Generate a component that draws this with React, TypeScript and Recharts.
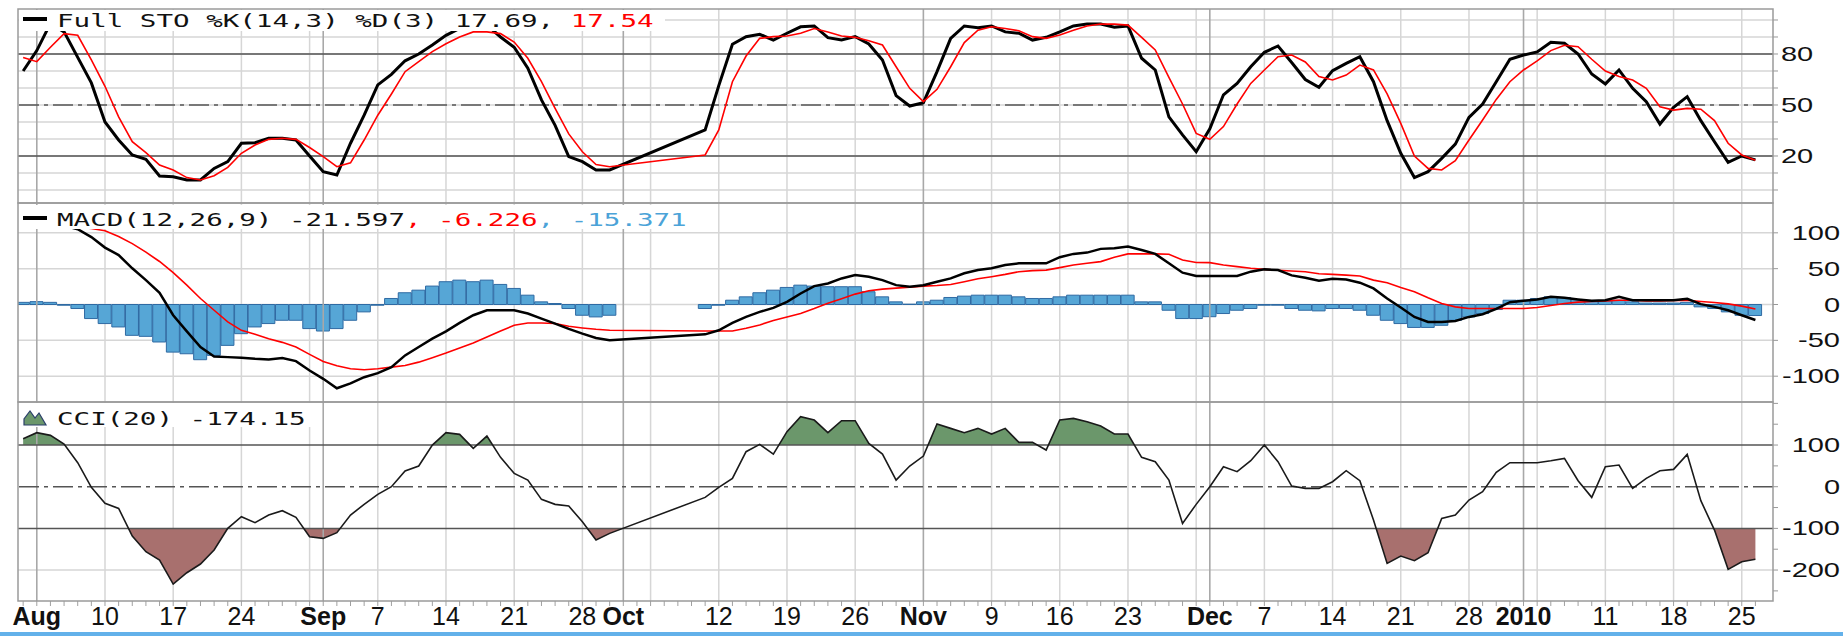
import React from 'react';
import { ComposedChart, Line, Bar, Area, XAxis, YAxis, CartesianGrid, ReferenceLine } from 'recharts';

// calendar: one slot per weekday, no quotes on Oct 1-8
const FIRST_DAY = '2009-07-31';
const LAST_DAY = '2010-01-26';
const MISSING_DAYS = ['2009-10-01', '2009-10-02', '2009-10-05', '2009-10-06', '2009-10-07', '2009-10-08'];

const AXIS_LABEL_DAYS = [
  '2009-08-03', '2009-08-10', '2009-08-17', '2009-08-24', '2009-09-01', '2009-09-07', '2009-09-14',
  '2009-09-21', '2009-09-28', '2009-10-01', '2009-10-12', '2009-10-19', '2009-10-26', '2009-11-02',
  '2009-11-09', '2009-11-16', '2009-11-23', '2009-12-01', '2009-12-07', '2009-12-14', '2009-12-21',
  '2009-12-28', '2010-01-01', '2010-01-11', '2010-01-18', '2010-01-25',
];
const AXIS_LABELS = [
  'Aug', '10', '17', '24', 'Sep', '7', '14', '21', '28', 'Oct', '12', '19', '26', 'Nov',
  '9', '16', '23', 'Dec', '7', '14', '21', '28', '2010', '11', '18', '25',
];
const MONTH_DAYS = ['2009-08-03', '2009-09-01', '2009-10-01', '2009-11-02', '2009-12-01', '2010-01-01'];

// values per trading day (Jul 31 .. Sep 30, then Oct 9 .. Jan 26)
const STO_K = [
  70, 82, 98, 93, 78, 63, 40, 29.4, 20.6, 18,
  8.2, 7.8, 5.9, 5.9, 12.7, 16.7, 27.5, 27.8, 30.4, 30.4,
  29.4, 20, 10.8, 8.8, 27.5, 44, 61.8, 68, 76, 80,
  85.3, 91, 95, 97, 97, 90, 84, 71.6, 53, 38,
  19.6, 16.7, 11.8, 11.8,
  35.3, 61.4, 85.7, 90.2, 91.6, 88.2, 92.2, 96, 96.5, 89.6,
  88.2, 90.2, 85.9, 76.5, 55.5, 49.4, 51.4, 69.6, 89.2, 96.5,
  95.5, 96.5, 93, 92.2, 88.2, 89.8, 93, 96.5, 97.6, 97.6,
  95.7, 96.5, 77.5, 70.6, 43, 32.4, 22.5, 36, 56, 62.7,
  72.5, 81, 84.7, 75, 65, 60.4, 70.2, 74.5, 78.4, 63.7,
  40.8, 21.6, 7.3, 10.8, 18.6, 27, 42.7, 50.6, 63.7, 76.9,
  79.4, 81.2, 86.9, 86.3, 80, 68.2, 62.4, 70.6, 59.8, 52,
  38.8, 48.6, 54.9, 40.8, 28.4, 16.3, 20, 17.69,
];
const STO_D = [
  78, 75.5, 84, 92, 91, 76.5, 61, 43, 28.4, 22,
  14.7, 11.8, 7.3, 5.9, 8.4, 13.3, 21.6, 26.5, 29.8, 30.4,
  29.8, 25, 19.6, 13.7, 16, 29.4, 44, 56.5, 69.6, 75.5,
  81.4, 86, 90, 93, 93, 92, 87, 77.5, 63.7, 48,
  33, 22.5, 15, 13.7,
  20.6, 35.3, 63.7, 78.8, 89.2, 90.2, 90.6, 92.2, 95, 93,
  90.6, 89.8, 87.8, 85.3, 72.5, 59.8, 52, 59.2, 72.5, 86.7,
  94, 96, 95, 93.7, 90.2, 89.2, 91.2, 94, 96.5, 97.6,
  97.6, 97, 89.8, 82.4, 66.3, 50.6, 33.3, 29.8, 37.3, 50.6,
  62.7, 70.6, 78.4, 79.4, 75.3, 66.7, 64.7, 67.6, 73.5, 70.6,
  56.5, 39.2, 20, 12.7, 11.8, 17.3, 29.4, 41.2, 53.3, 63.7,
  70.6, 76, 82, 85.1, 84.3, 76.9, 70, 66.7, 64.7, 59.8,
  49, 47, 48, 47.5, 40.8, 27.5, 20.6, 17.54,
];
const MACD_LINE = [
  128, 122, 116, 110, 105, 94, 79.4, 69, 50.5, 34,
  16.4, -15, -37.4, -59.3, -72.4, -73.4, -74.3, -75.7, -76.6, -74.8,
  -79, -92, -103.7, -116.8, -110, -101.4, -95.8, -87.4, -71, -59.3,
  -47.7, -37.4, -25.7, -15, -8, -8, -8, -12.6, -19.6, -26.6,
  -34, -40.7, -46.7, -50,
  -41.6, -36, -25.7, -17.3, -10.3, -4.7, 3.7, 15.4, 25.7, 29.4,
  36.4, 41, 38.8, 34, 27, 24.8, 27, 31.8, 36.4, 43.5,
  48, 50.5, 55, 57.5, 57.5, 57.5, 66, 70.6, 72.4, 77.6,
  78.5, 80.8, 76, 70.6, 57.5, 44.4, 39.7, 39.7, 39.7, 39.7,
  45.8, 49, 48, 40.6, 37.4, 33.2, 36, 35, 30.4, 22.4,
  8.4, -4.2, -17.3, -24.3, -24.3, -22.9, -17.3, -13.6, -6, 3.3,
  5.1, 7, 10.7, 9.3, 7, 5.1, 6, 10.7, 6, 6,
  6, 6, 8, 0.5, -3.3, -8, -15, -21.597,
];
const MACD_SIGNAL = [
  120, 117, 114, 111, 108, 106, 102.8, 94.9, 85, 73,
  60, 44.4, 27, 8.4, -8, -24.3, -36, -41.6, -47.7, -52.8,
  -59.3, -69.6, -79.4, -85.5, -89.7, -91, -89.7, -87.4, -85, -80.4,
  -74.3, -67.8, -60.7, -53.7, -45.3, -37, -29, -25.7, -25.7, -26.6,
  -30.4, -32.7, -34.6, -36,
  -37, -37, -37, -33, -28.5, -22.4, -17.3, -12.6, -5.6, 1.9,
  8, 14.5, 19.2, 21.5, 22.9, 24.3, 25.7, 26.6, 28, 31.8,
  36, 38.8, 42, 45.8, 47.2, 48, 51.4, 55, 57.5, 59.8,
  65.9, 70.6, 70.6, 70.6, 70, 62, 58.5, 58.4, 55, 52.8,
  50.5, 49, 47.7, 46.7, 45.8, 43, 42, 41, 39.7, 34,
  30.4, 23.8, 17.8, 9.3, 1.4, -3.3, -5.6, -5.6, -5.6, -5.6,
  -5.6, -4.2, -1.4, 1.4, 3.3, 4.2, 5.1, 6, 6, 5.1,
  5.1, 5.6, 6, 4.2, 2.8, 0.9, -2.3, -6.226,
];
const MACD_HIST = [
  3, 4, 3, -1, -5.6, -19.6, -26.6, -31.3, -43, -44.4,
  -52.3, -66.4, -68.7, -77, -71, -57, -40.7, -31.3, -26.6, -22,
  -22, -33.6, -37, -33.6, -22, -10.3, -1, 8.4, 16.4, 20,
  25.7, 31.8, 34, 31.8, 34, 28, 22.4, 13, 3.7, 1.4,
  -5.6, -15, -17.3, -15,
  -5.6, -1, 6, 10.7, 16.4, 20, 23.8, 27, 25.7, 24.8,
  24.8, 24.8, 17.8, 10.7, 3.7, 0.5, 3.7, 6, 9.8, 11.7,
  13, 13, 13, 10.7, 8.4, 8.4, 10.7, 13, 13, 13,
  13, 13, 3.7, 3.7, -8, -19.6, -19.6, -17, -12.6, -8,
  -5.6, -1, -1, -5.6, -8, -8.9, -5.6, -5.6, -8, -15,
  -22, -26.6, -32, -32, -29, -22, -17.3, -12.6, -7, 6,
  6, 8.4, 10.7, 9.8, 7, 4.7, 4.7, 6, 3.7, 2,
  2, 2, 3, -3.3, -5.6, -10.3, -15, -15.371,
];
const CCI_20 = [
  115.2, 129.6, 123.2, 102.4, 57.6, -1.6, -40, -52, -118.4, -156,
  -176, -233.6, -206.4, -185.6, -152, -100, -72, -86.4, -68, -57.6,
  -73.6, -120, -124, -110.4, -68, -42.4, -18.4, 0, 37.6, 49.6,
  100, 129.6, 125.6, 92, 121.6, 70.4, 32, 16, -30.4, -42.4,
  -46.4, -84, -128, -112,
  -25.6, -1.6, 20, 84, 101.6, 78.4, 132, 168, 160, 129.6,
  158.4, 158.4, 104, 78.4, 16, 49.6, 73.6, 150.4, 140, 129.6,
  140, 126.4, 140, 106.4, 106.4, 88, 160, 164, 156, 145.6,
  126.4, 126.4, 70.4, 60, 16, -88, -42.4, 0, 48, 36,
  62.4, 100, 60, 1.6, -4, -4, 12, 38.4, 14.4, -80,
  -184, -166.4, -177.6, -158.4, -76, -68, -32, -12, 34.4, 57.6,
  57.6, 57.6, 62.4, 68, 14.4, -25.6, 48, 52, -4, 20,
  38.4, 41.6, 77.6, -33.6, -104, -198.4, -180, -174.15,
];

const STO_LABELS = [20, 50, 80];
const MACD_LABELS = [100, 50, 0, -50, -100];
const CCI_LABELS = [100, 0, -100, -200];

const DAY_MS = 86400000;
function weekdaysBetween(a: string, b: string): string[] {
  const out: string[] = [];
  const end = Date.parse(b + 'T00:00:00Z');
  for (let t = Date.parse(a + 'T00:00:00Z'); t <= end; t += DAY_MS) {
    const wd = new Date(t).getUTCDay();
    if (wd === 0 || wd === 6) continue;
    out.push(new Date(t).toISOString().slice(0, 10));
  }
  return out;
}
const ALL_DAYS = weekdaysBetween(FIRST_DAY, LAST_DAY);
const slotOf = (d: string) => ALL_DAYS.indexOf(d);
const ALL_SLOTS = ALL_DAYS.map((_, i) => i);
const TRADING_DAYS = ALL_DAYS.filter((d) => !MISSING_DAYS.includes(d));
const MONDAY_SLOTS = ALL_DAYS.filter((d) => new Date(d + 'T00:00:00Z').getUTCDay() === 1 && !MONTH_DAYS.includes(d)).map(slotOf);
const MONTH_SLOTS = MONTH_DAYS.map(slotOf);
const LABEL_SLOTS = AXIS_LABEL_DAYS.map(slotOf);

const rows = TRADING_DAYS.map((d, k) => ({
  slot: slotOf(d),
  stoK: STO_K[k],
  stoD: STO_D[k],
  macd: MACD_LINE[k],
  signal: MACD_SIGNAL[k],
  hist: MACD_HIST[k],
  cci: CCI_20[k],
}));

const cciMax = Math.max(...CCI_20, 100);
const cciMin = Math.min(...CCI_20, -100);
const offHi = (cciMax - 100) / (cciMax - cciMin);
const offLo = (cciMax + 100) / (cciMax - cciMin);

const W = 1843;
const X_DOMAIN: [number, number] = [-0.378, 128.29];
const LABEL_FONT = '"Liberation Sans", Arial, sans-serif';
const MONO = '"DejaVu Sans Mono", monospace';
const GRID = '#d6d6d6';
const DARK = '#555';
const DASHDOT = '20 5 4 5';

const rightLabel = (labels: number[], leftAligned: boolean) => (p: any) => {
  const v = p.payload.value;
  if (!labels.includes(v)) return <g />;
  const x = leftAligned ? 1781 : 1840;
  return (
    <text
      transform={`translate(${x} ${p.y + 7}) scale(1.45 1)`}
      textAnchor={leftAligned ? 'start' : 'end'}
      fontFamily={LABEL_FONT}
      fontSize={20}
      fill="#111"
    >
      {v}
    </text>
  );
};

const DateTick = (p: any) => {
  const k = LABEL_SLOTS.indexOf(p.payload.value);
  if (k < 0) return <g />;
  const month = MONTH_DAYS.includes(AXIS_LABEL_DAYS[k]);
  return (
    <text x={p.x} y={224} textAnchor="middle" fontFamily={LABEL_FONT} fontSize={25} fontWeight={month ? 700 : 400} fill="#111">
      {AXIS_LABELS[k]}
    </text>
  );
};

const monthLines = () =>
  MONTH_SLOTS.map((s) => <ReferenceLine key={'m' + s} x={s} stroke="#a8a8a8" strokeWidth={1.6} />);

export default function App() {
  return (
    <div style={{ position: 'absolute', left: 0, top: 0, width: W, height: 636, background: '#fff' }}>
      {/* Full STO */}
      <div style={{ position: 'absolute', left: 0, top: 0 }}>
        <ComposedChart width={W} height={204} data={rows} margin={{ top: 9, right: 0, bottom: 1, left: 18 }}>
          <CartesianGrid
            horizontalValues={[0, 10, 20, 30, 40, 50, 60, 70, 80, 90, 100]}
            verticalValues={MONDAY_SLOTS}
            stroke={GRID}
            strokeWidth={1.5}
          />
          <XAxis type="number" dataKey="slot" domain={X_DOMAIN} allowDataOverflow hide />
          <XAxis
            xAxisId="top"
            orientation="top"
            type="number"
            dataKey="slot"
            domain={X_DOMAIN}
            allowDataOverflow
            height={0}
            ticks={ALL_SLOTS}
            interval={0}
            tick={() => <g />}
            tickSize={5}
            tickLine={{ stroke: '#b5b5b5' }}
            axisLine={false}
          />
          <YAxis
            orientation="right"
            width={70}
            domain={[-7.65, 106.47]}
            allowDataOverflow
            ticks={[0, 10, 20, 30, 40, 50, 60, 70, 80, 90, 100]}
            interval={0}
            tick={rightLabel(STO_LABELS, true)}
            tickSize={5}
            tickLine={{ stroke: '#999' }}
            axisLine={false}
          />
          {monthLines()}
          <ReferenceLine y={80} stroke={DARK} strokeWidth={1.5} />
          <ReferenceLine y={20} stroke={DARK} strokeWidth={1.5} />
          <ReferenceLine y={50} stroke={DARK} strokeWidth={1.5} strokeDasharray={DASHDOT} />
          <Line dataKey="stoK" stroke="#000" strokeWidth={3} dot={false} isAnimationActive={false} />
          <Line dataKey="stoD" stroke="#ff0000" strokeWidth={1.6} dot={false} isAnimationActive={false} />
        </ComposedChart>
      </div>

      {/* MACD */}
      <div style={{ position: 'absolute', left: 0, top: 203 }}>
        <ComposedChart width={W} height={200} data={rows} margin={{ top: 1, right: 0, bottom: 1, left: 18 }}>
          <CartesianGrid horizontalValues={[-100, -50, 0, 50, 100]} verticalValues={MONDAY_SLOTS} stroke={GRID} strokeWidth={1.5} />
          <XAxis type="number" dataKey="slot" domain={X_DOMAIN} allowDataOverflow hide />
          <YAxis
            orientation="right"
            width={70}
            domain={[-136, 140.2]}
            allowDataOverflow
            ticks={[-100, -50, 0, 50, 100]}
            interval={0}
            tick={rightLabel(MACD_LABELS, false)}
            tickSize={5}
            tickLine={{ stroke: '#999' }}
            axisLine={false}
          />
          {monthLines()}
          <Bar dataKey="hist" barSize={13} fill="#56a6d6" stroke="#2f6aa3" strokeWidth={1} isAnimationActive={false} />
          <Line dataKey="signal" stroke="#ff0000" strokeWidth={1.6} dot={false} isAnimationActive={false} />
          <Line dataKey="macd" stroke="#000" strokeWidth={2.5} dot={false} isAnimationActive={false} />
        </ComposedChart>
      </div>

      {/* CCI */}
      <div style={{ position: 'absolute', left: 0, top: 401 }}>
        <ComposedChart width={W} height={235} data={rows} margin={{ top: 1, right: 0, bottom: 0, left: 18 }}>
          <defs>
            <linearGradient id="cciFill" x1="0" y1="0" x2="0" y2="1">
              <stop offset={0} stopColor="#6b976b" />
              <stop offset={offHi} stopColor="#6b976b" />
              <stop offset={offHi} stopColor="#fff" stopOpacity={0} />
              <stop offset={offLo} stopColor="#fff" stopOpacity={0} />
              <stop offset={offLo} stopColor="#a8706e" />
              <stop offset={1} stopColor="#a8706e" />
            </linearGradient>
          </defs>
          <CartesianGrid horizontalValues={[-200]} verticalValues={MONDAY_SLOTS} stroke={GRID} strokeWidth={1.5} />
          <XAxis
            type="number"
            dataKey="slot"
            domain={X_DOMAIN}
            allowDataOverflow
            height={35}
            ticks={ALL_SLOTS}
            interval={0}
            tick={DateTick}
            tickSize={5}
            tickLine={{ stroke: '#a0a0a0' }}
            axisLine={false}
          />
          <YAxis
            orientation="right"
            width={70}
            domain={[-274.3, 203.3]}
            allowDataOverflow
            ticks={[-250, -200, -150, -100, -50, 0, 50, 100, 150, 200]}
            interval={0}
            tick={rightLabel(CCI_LABELS, false)}
            tickSize={5}
            tickLine={{ stroke: '#999' }}
            axisLine={false}
          />
          {monthLines()}
          <Area dataKey="cci" baseValue={100} fill="url(#cciFill)" fillOpacity={1} stroke="none" isAnimationActive={false} />
          <ReferenceLine y={100} stroke={DARK} strokeWidth={1.5} />
          <ReferenceLine y={-100} stroke={DARK} strokeWidth={1.5} />
          <ReferenceLine y={0} stroke={DARK} strokeWidth={1.5} strokeDasharray={DASHDOT} />
          <Line dataKey="cci" stroke="#1a1a1a" strokeWidth={1.6} dot={false} isAnimationActive={false} />
        </ComposedChart>
      </div>

      {/* frames and legends */}
      <svg width={W} height={636} style={{ position: 'absolute', left: 0, top: 0, pointerEvents: 'none' }}>
        <rect x={18} y={9} width={1755} height={194} fill="none" stroke="#9a9a9a" strokeWidth={1.5} />
        <rect x={18} y={203} width={1755} height={199} fill="none" stroke="#9a9a9a" strokeWidth={1.5} />
        <rect x={18} y={402} width={1755} height={199} fill="none" stroke="#9a9a9a" strokeWidth={1.5} />

        <rect x={19} y={10} width={646} height={21} fill="#fff" />
        <rect x={23} y={17} width={24} height={4} fill="#000" />
        <text transform="translate(57 26.5) scale(1.53 1)" fontFamily={MONO} fontSize={18} style={{ whiteSpace: 'pre' }}>
          <tspan fill="#111">Full STO %K(14,3) %D(3) 17.69, </tspan>
          <tspan fill="#ff0000">17.54</tspan>
        </text>

        <rect x={19} y={205} width={680} height={24} fill="#fff" />
        <rect x={23} y={216} width={24} height={4} fill="#000" />
        <text transform="translate(57 226) scale(1.53 1)" fontFamily={MONO} fontSize={18} style={{ whiteSpace: 'pre' }}>
          <tspan fill="#111">MACD(12,26,9) -21.597</tspan>
          <tspan fill="#ff0000">, -6.226</tspan>
          <tspan fill="#4ba3d8">, -15.371</tspan>
        </text>

        <rect x={19} y={403} width={296} height={24} fill="#fff" />
        <polygon points="24,425 24,419 30,411 35,418 39,413 46,425" fill="#6b976b" stroke="#2a3f6a" strokeWidth={1.2} />
        <text transform="translate(57 425) scale(1.53 1)" fontFamily={MONO} fontSize={18} fill="#111" style={{ whiteSpace: 'pre' }}>
          CCI(20) -174.15
        </text>
      </svg>
      <div style={{ position: 'absolute', left: 0, top: 632, width: W, height: 4, background: '#63b1ea' }} />
    </div>
  );
}
